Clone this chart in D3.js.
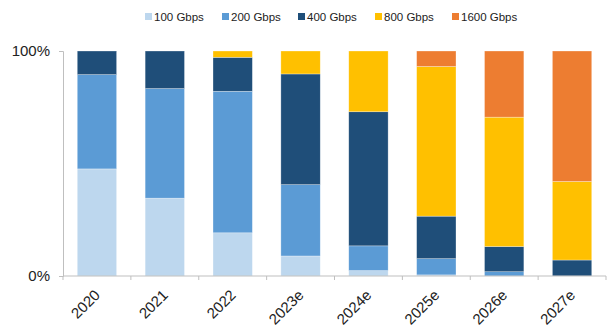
<!DOCTYPE html>
<html>
<head>
<meta charset="utf-8">
<script src="https://cdn.jsdelivr.net/npm/d3@7/dist/d3.min.js"></script>
<style>
  html, body { margin: 0; padding: 0; background: #fff; }
  svg { display: block; font-family: "Liberation Sans", Arial, sans-serif; }
</style>
</head>
<body>
<svg id="chart"></svg>
<script>
(function () {

  var width = 608, height = 326;

  // data (share of ports, %)
  var years = ['2020', '2021', '2022', '2023e', '2024e', '2025e', '2026e', '2027e'];
  var series = ['100 Gbps', '200 Gbps', '400 Gbps', '800 Gbps', '1600 Gbps'];
  var colors = ['#bdd7ee', '#5b9bd5', '#1f4e79', '#ffc000', '#ed7d31'];

  var s100  = [47.6, 34.6, 19.2,  8.9,  2.4,  0.5,  0,    0];
  var s200  = [41.9, 48.7, 62.9, 31.7, 11.0,  7.2,  1.9,  0];
  var s400  = [10.5, 16.7, 15.1, 49.2, 59.6, 18.9, 11.2,  7.1];
  var s800  = [0,    0,     2.8, 10.2, 27.0, 66.5, 57.5, 34.9];
  var s1600 = [0,    0,     0,    0,    0,    6.9, 29.4, 58.0];

  var yTicks = [0, 100];

  var rows = years.map(function (y, i) {
    return {
      year: y,
      '100 Gbps': s100[i], '200 Gbps': s200[i], '400 Gbps': s400[i],
      '800 Gbps': s800[i], '1600 Gbps': s1600[i]
    };
  });

  var margin = { left: 63, right: 2, top: 51, bottom: 50 };

  var svg = d3.select('#chart')
    .attr('width', width)
    .attr('height', height);

  var x = d3.scaleBand()
    .domain(years)
    .range([margin.left, 606])
    .paddingInner(0.42)
    .paddingOuter(0.21);

  var y = d3.scaleLinear()
    .domain([0, 100])
    .range([276, margin.top]);

  var color = d3.scaleOrdinal().domain(series).range(colors);

  var stacked = d3.stack().keys(series)(rows);

  svg.append('g')
    .selectAll('g')
    .data(stacked)
    .join('g')
    .attr('fill', function (d) { return color(d.key); })
    .selectAll('rect')
    .data(function (d) { return d; })
    .join('rect')
    .attr('x', function (d) { return x(d.data.year); })
    .attr('y', function (d) { return y(d[1]); })
    .attr('width', x.bandwidth())
    .attr('height', function (d) { return Math.max(0, y(d[0]) - y(d[1])); })
    .attr('stroke', 'rgba(255,255,255,0.5)')
    .attr('stroke-width', 0.6);

  // y axis
  var yAxis = svg.append('g')
    .attr('transform', 'translate(' + margin.left + ',0)')
    .call(d3.axisLeft(y).tickValues(yTicks).tickSize(4).tickPadding(9)
      .tickFormat(function (d) { return d + '%'; }));
  yAxis.select('.domain').attr('stroke', '#bfbfbf');
  yAxis.selectAll('.tick line').attr('stroke', '#bfbfbf');
  yAxis.selectAll('text')
    .attr('font-size', 15)
    .attr('fill', '#222')
    .attr('font-family', '"Liberation Sans", Arial, sans-serif');

  // x axis with ticks between categories
  var xg = svg.append('g');
  xg.append('line')
    .attr('x1', margin.left).attr('x2', 606)
    .attr('y1', y(0)).attr('y2', y(0))
    .attr('stroke', '#bfbfbf');
  var step = x.step();
  var bounds = years.map(function (d) { return x(d) - x.paddingOuter() * step; });
  bounds.push(606);
  xg.selectAll('.xt')
    .data(bounds)
    .join('line')
    .attr('class', 'xt')
    .attr('x1', function (d) { return d; }).attr('x2', function (d) { return d; })
    .attr('y1', y(0)).attr('y2', y(0) + 4)
    .attr('stroke', '#bfbfbf');

  xg.selectAll('.xl')
    .data(years)
    .join('text')
    .attr('class', 'xl')
    .attr('text-anchor', 'end')
    .attr('font-size', 15)
    .attr('fill', '#222')
    .attr('transform', function (d) {
      return 'translate(' + (x(d) + x.bandwidth() / 2 + 4) + ',' + 296 + ') rotate(-45)';
    })
    .text(function (d) { return d; });

  // legend
  var legendX = [145, 222, 298, 375, 452];
  var legend = svg.append('g');
  series.forEach(function (s, i) {
    legend.append('rect')
      .attr('x', legendX[i]).attr('y', 13)
      .attr('width', 7).attr('height', 7)
      .attr('fill', colors[i]);
    legend.append('text')
      .attr('x', legendX[i] + 9).attr('y', 21)
      .attr('font-size', 11.5)
      .attr('fill', '#222')
      .text(s);
  });

})();
</script>
</body>
</html>
